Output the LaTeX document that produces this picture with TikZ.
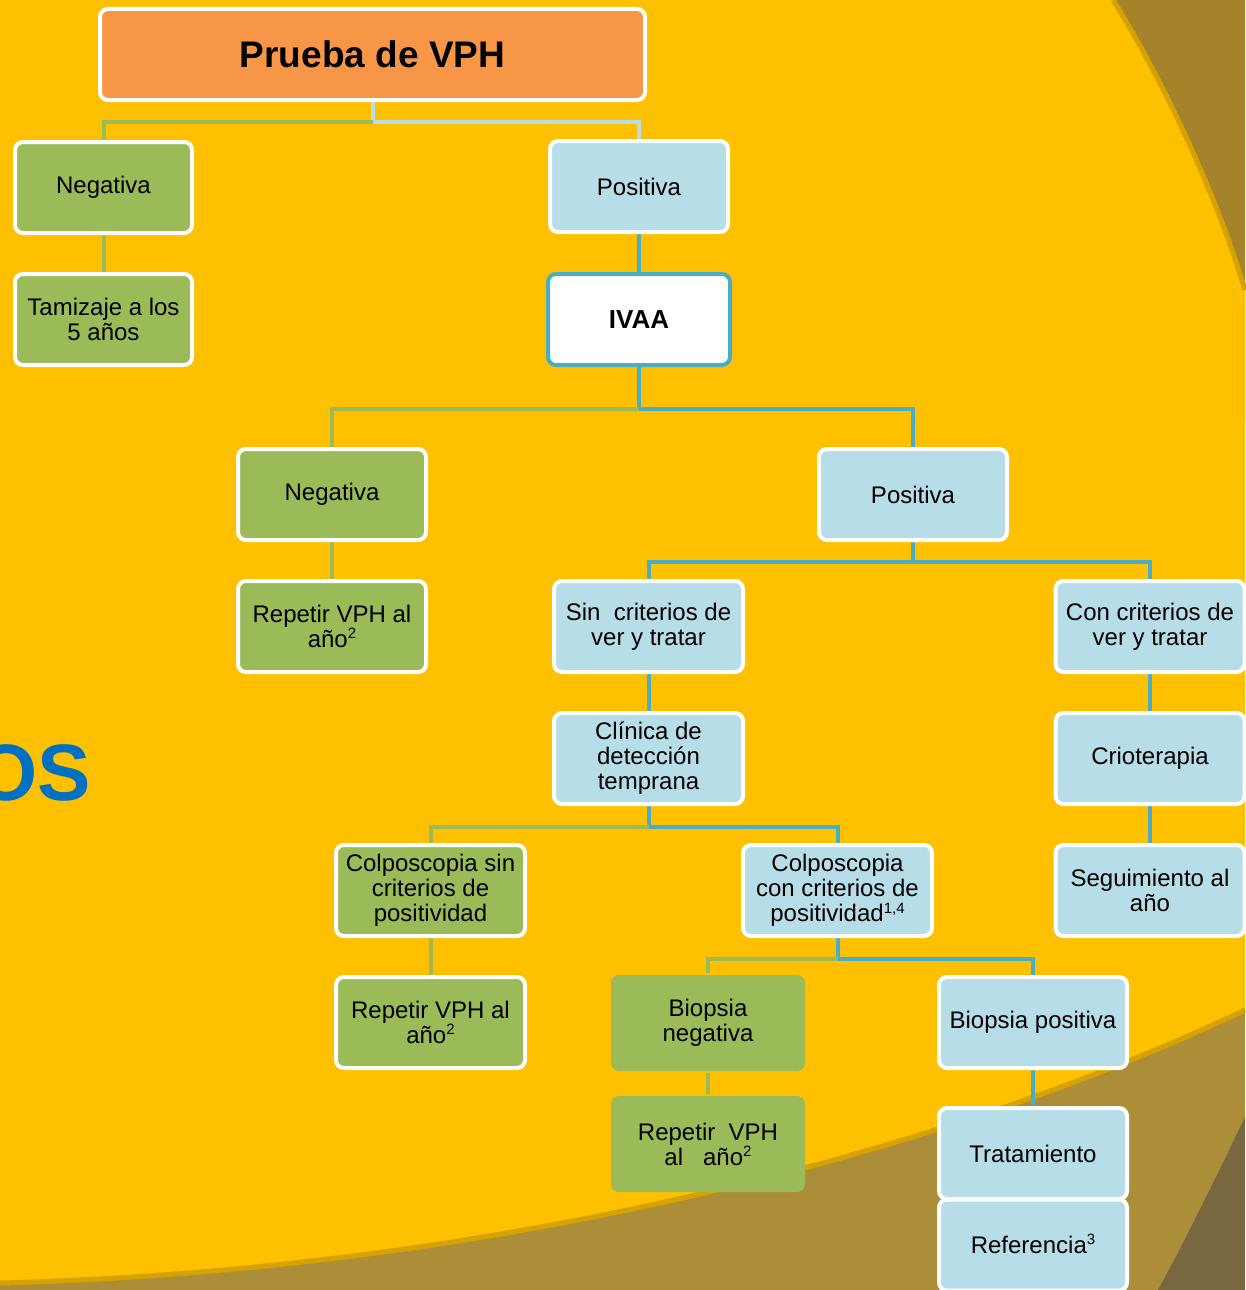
\documentclass[tikz,border=0pt]{standalone}
\usepackage{fontspec}
\setmainfont{Liberation Sans}
\usetikzlibrary{backgrounds}
\definecolor{amarillo}{HTML}{FFC000}
\definecolor{oroscuro}{HTML}{D6A200}
\definecolor{cafe}{HTML}{AD8E38}
\definecolor{cafealto}{HTML}{A4832A}
\definecolor{cafeoscuro}{HTML}{786840}
\definecolor{naranja}{HTML}{F79646}
\definecolor{verde}{HTML}{9BBB59}
\definecolor{celeste}{HTML}{B7DDE8}
\definecolor{azul}{HTML}{4BACC6}
\definecolor{azultitulo}{HTML}{0070C0}
\newcommand{\indice}[1]{\raisebox{.36em}[0pt][0pt]{\fontsize{15}{15}\selectfont#1}}
\begin{document}
\begin{tikzpicture}[x=1pt,y=-1pt,
  caja/.style={rounded corners=8pt,line width=4pt,draw=white,align=center,inner sep=0pt,
    minimum width=188pt,minimum height=91pt,font=\fontsize{24}{25}\selectfont},
  cajaverde/.style={caja,fill=verde},
  cajaceleste/.style={caja,fill=celeste},
  cajaplana/.style={caja,draw=none,fill=verde,minimum width=194pt,minimum height=96pt},
  lv/.style={line width=4pt,draw=verde},
  la/.style={line width=4pt,draw=azul},
  lc/.style={line width=4pt,draw=celeste}]
        \def\W{1245}
        \def\H{1290}
        \clip (0,0) rectangle (\W,\H);
        % fondo
        \begin{scope}[on background layer]
        \fill[cafe] (0,0) rectangle (\W,\H);
        \fill[cafeoscuro] (\W,1117) .. controls (1210,1190) and (1180,1250) .. (1158,\H) -- (\W,\H) -- cycle;
        \fill[cafealto] (1100,0) -- (\W,0) -- (\W,420) -- cycle;
        \fill[amarillo] (0,0) -- (1113,0) .. controls (1160,75) and (1215,190) .. (\W,290)
            -- (\W,1010) .. controls (950,1150) and (500,1270) .. (0,1283) -- cycle;
        \draw[oroscuro,line width=5pt] (1113,0) .. controls (1160,75) and (1215,190) .. (\W,290);
        \draw[oroscuro,line width=5pt] (\W,1010) .. controls (950,1150) and (500,1270) .. (0,1283);
        \end{scope}
        \node[font=\bfseries\fontsize{80}{80}\selectfont,text=azultitulo,anchor=base east,inner sep=0pt] (os) at (91,800) {OS};
        % cajas
        \node[caja,fill=naranja,minimum width=545pt,font=\bfseries\fontsize{37}{40}\selectfont] (vph) at (372.5,54.5) {Prueba de VPH};
        \node[cajaverde,minimum width=177pt] (neg1) at (103.5,187.5) {Negativa};
        \node[cajaceleste,minimum width=178pt] (pos1) at (639,186.5) {Positiva};
        \node[cajaverde,minimum width=177pt] (tam) at (103.5,319.5) {Tamizaje a los\\5 años};
        \node[caja,draw=azul,fill=white,minimum width=182pt,font=\bfseries\fontsize{26}{28}\selectfont] (ivaa) at (639,319.5) {IVAA};
        \node[cajaverde] (neg2) at (332,494.5) {Negativa};
        \node[cajaceleste] (pos2) at (913,494.5) {Positiva};
        \node[cajaverde] (rep1) at (332,626.5) {Repetir VPH al\\año\indice{2}};
        \node[cajaceleste,minimum width=189pt] (sin) at (648.5,626.5) {Sin\ \ criterios de\\ver y tratar};
        \node[cajaceleste,minimum width=189pt] (con) at (1150,626.5) {Con criterios de\\ver y tratar};
        \node[cajaceleste,minimum width=189pt] (cli) at (648.5,758.5) {Clínica de\\detección\\temprana};
        \node[cajaceleste,minimum width=189pt] (crio) at (1150,758.5) {Crioterapia};
        \node[cajaverde,minimum width=189pt] (csin) at (430.5,890.5) {Colposcopia sin\\criterios de\\positividad};
        \node[cajaceleste,minimum width=189pt] (ccon) at (837.5,890.5) {Colposcopia\\con criterios de\\positividad\indice{1,4}};
        \node[cajaceleste,minimum width=189pt] (seg) at (1150,890.5) {Seguimiento al\\año};
        \node[cajaverde,minimum width=189pt] (rep2) at (430.5,1022.5) {Repetir VPH al\\año\indice{2}};
        \node[cajaplana] (bneg) at (708,1023) {Biopsia\\negativa};
        \node[cajaceleste] (bpos) at (1033,1022.5) {Biopsia positiva};
        \node[cajaplana] (rep3) at (708,1144) {Repetir\ \ VPH\\al\ \ \ año\indice{2}};
        \node[cajaceleste] (trat) at (1033,1153.5) {Tratamiento};
        \node[cajaceleste] (ref) at (1033,1245) {Referencia\indice{3}};
        % conectores
        \begin{scope}[on background layer]
        \draw[lc] (vph.south) -- ++(0,20) coordinate (j1) -| (pos1.north);
        \draw[lv] (j1) -| (neg1.north);
        \draw[lv] (neg1.south) -- (tam.north);
        \draw[la] (pos1.south) -- (ivaa.north);
        \draw[la] (ivaa.south) -- ++(0,42) coordinate (j2) -| (pos2.north);
        \draw[lv] (j2) -| (neg2.north);
        \draw[lv] (neg2.south) -- (rep1.north);
        \draw[la] (pos2.south) -- ++(0,20) coordinate (j3) -| (con.north);
        \draw[la] (j3) -| (sin.north);
        \draw[la] (sin.south) -- (cli.north);
        \draw[la] (con.south) -- (crio.north);
        \draw[la] (crio.south) -- (seg.north);
        \draw[la] (cli.south) -- ++(0,21) coordinate (j4) -| (ccon.north);
        \draw[lv] (j4) -| (csin.north);
        \draw[lv] (csin.south) -- (rep2.north);
        \draw[la] (ccon.south) -- ++(0,21) coordinate (j5) -| (bpos.north);
        \draw[lv] (j5) -| (bneg.north);
        \draw[lv] (bneg.south) -- (rep3.north);
        \draw[la] (bpos.south) -- (trat.north);
        \end{scope}
\end{tikzpicture}
\end{document}
